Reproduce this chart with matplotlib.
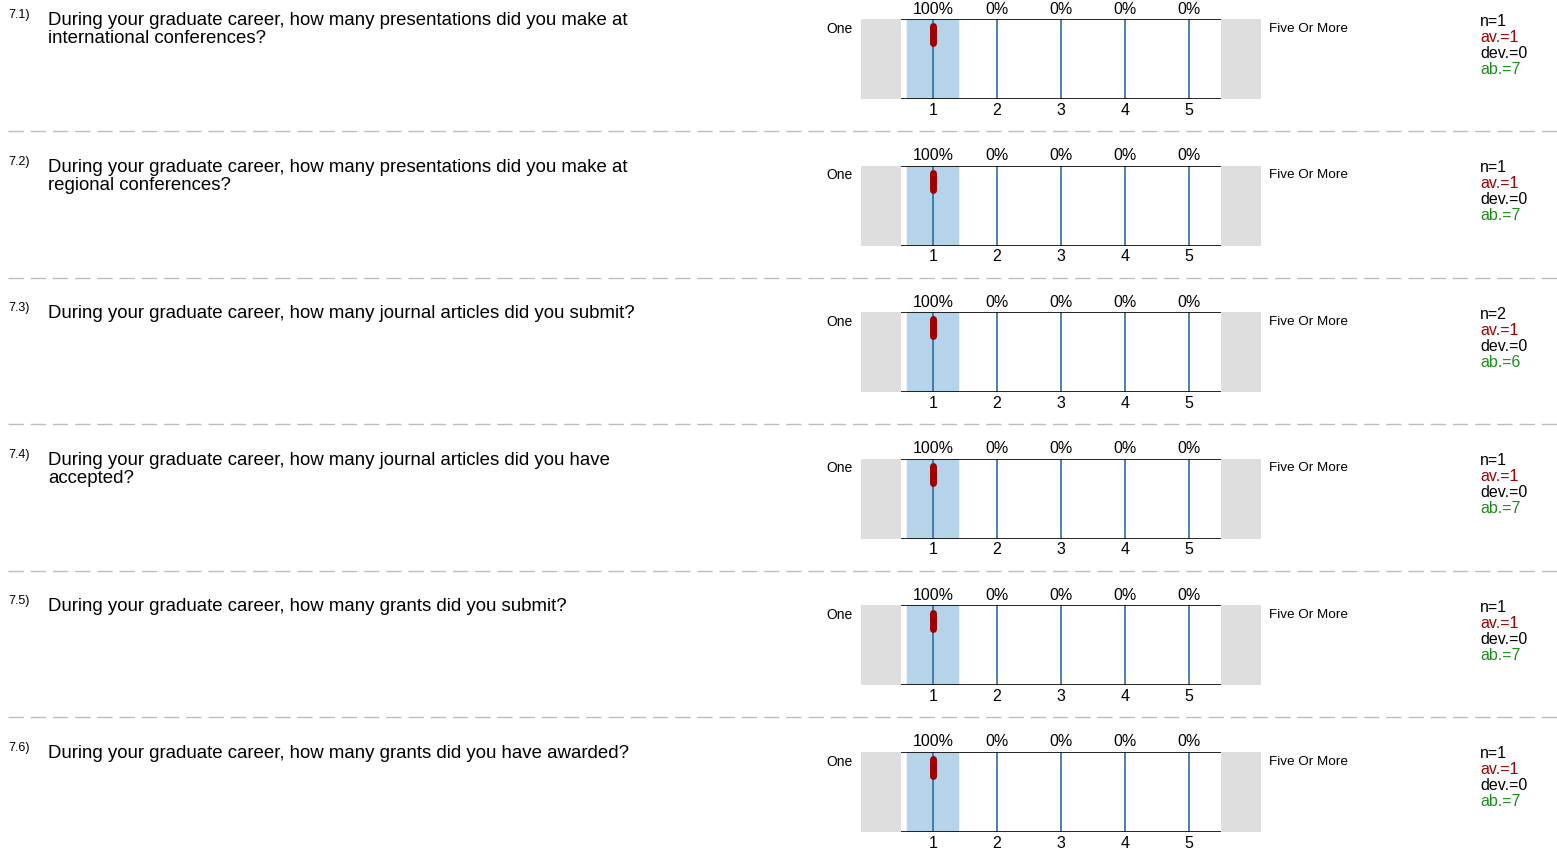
import matplotlib.pyplot as plt
from matplotlib.patches import FancyBboxPatch

plt.rcParams["font.family"] = ["Liberation Sans", "DejaVu Sans"]

# data
numbers = ["7.1)", "7.2)", "7.3)", "7.4)", "7.5)", "7.6)"]
questions = [
    "During your graduate career, how many presentations did you make at\ninternational conferences?",
    "During your graduate career, how many presentations did you make at\nregional conferences?",
    "During your graduate career, how many journal articles did you submit?",
    "During your graduate career, how many journal articles did you have\naccepted?",
    "During your graduate career, how many grants did you submit?",
    "During your graduate career, how many grants did you have awarded?",
]
scale_values = [1, 2, 3, 4, 5]
percents = [[100, 0, 0, 0, 0]] * 6
n_vals = [1, 1, 2, 1, 1, 1]
av_vals = [1, 1, 1, 1, 1, 1]
dev_vals = [0, 0, 0, 0, 0, 0]
ab_vals = [7, 7, 6, 7, 7, 7]
left_label = "One"
right_label = "Five Or More"

W, H = 1557, 848
fig = plt.figure(figsize=(W / 100, H / 100), dpi=100)

row_h = 146.6
blue = "#b5d4ea"
line_blue = "#2f6ca3"
red = "#a00000"
green = "#1a8c1a"
gray = "#dedede"

for i in range(len(questions)):
    y0 = i * row_h
    # axes for the scale (pixels 861..1261, y0+19..y0+99)
    ax = fig.add_axes([861 / W, 1 - (y0 + 99) / H, 400 / W, 80 / H])
    ax.set_xlim(-0.125, 6.125)
    ax.set_ylim(0, 1)
    ax.axis("off")
    ax.axvspan(-0.125, 0.5, color=gray, lw=0)
    ax.axvspan(5.5, 6.125, color=gray, lw=0)
    for v, p in zip(scale_values, percents[i]):
        if p > 0:
            h = p / 100
            ax.add_patch(FancyBboxPatch((v - 0.41, 0), 0.82, h, boxstyle="round,pad=0,rounding_size=0.06",
                                        mutation_aspect=0.09, fc=blue, ec="none"))
        ax.plot([v, v], [0, 1], color=line_blue, lw=1.2)
        ax.text(v, 1.125, f"{p}%", ha="center", va="center", fontsize=11.5)
        ax.text(v, -0.14, str(v), ha="center", va="center", fontsize=11.5)
    ax.plot([0.5, 5.5], [1, 1], color="black", lw=1.2, solid_capstyle="butt")
    ax.plot([0.5, 5.5], [0, 0], color="black", lw=1.2, solid_capstyle="butt")
    ax.plot([av_vals[i], av_vals[i]], [0.70, 0.91], color=red, lw=5, solid_capstyle="round")

    ax.text(-0.25, 0.88, left_label, ha="right", va="center", fontsize=10)
    ax.text(6.25, 0.88, right_label, ha="left", va="center", fontsize=9.7)

    # question text
    fig.text(8 / W, 1 - (y0 + 15) / H, numbers[i], fontsize=9, va="center", ha="left")
    fig.text(48 / W, 1 - (y0 + 12) / H, questions[i], fontsize=13.4, va="top", ha="left",
             linespacing=1.1)

    # stats
    sx = 1480 / W
    stats = [(f"n={n_vals[i]}", "black"), (f"av.={av_vals[i]}", red),
             (f"dev.={dev_vals[i]}", "black"), (f"ab.={ab_vals[i]}", green)]
    for k, (s, c) in enumerate(stats):
        fig.text(sx, 1 - (y0 + 21 + k * 16) / H, s, color=c, fontsize=11.5, va="center", ha="left")

    if i < len(questions) - 1:
        yl = 1 - (y0 + 131) / H
        fig.add_artist(plt.Line2D([8 / W, 1], [yl, yl], color="#bdbdbd", lw=1,
                                  linestyle=(0, (11, 5))))

fig.savefig("out.png", dpi=100)
